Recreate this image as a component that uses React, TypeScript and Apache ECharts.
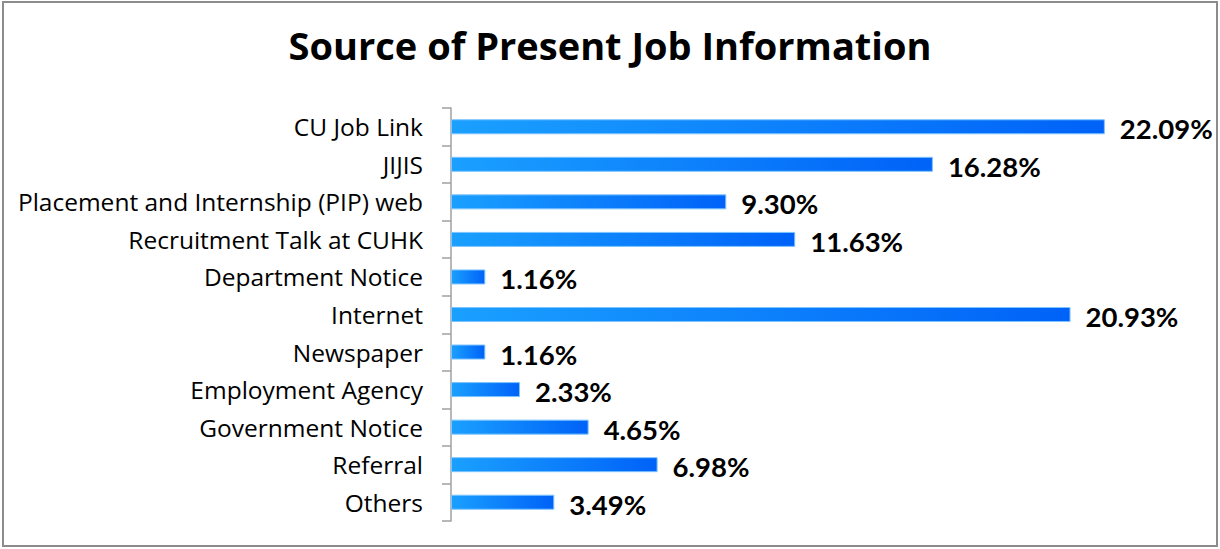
import React, { useEffect, useRef } from "react";
import * as echarts from "echarts";

const categories = [
  "CU Job Link",
  "JIJIS",
  "Placement and Internship (PIP) web",
  "Recruitment Talk at CUHK",
  "Department Notice",
  "Internet",
  "Newspaper",
  "Employment Agency",
  "Government Notice",
  "Referral",
  "Others",
];
const values = [22.09, 16.28, 9.3, 11.63, 1.16, 20.93, 1.16, 2.33, 4.65, 6.98, 3.49];
const titleText = "Source of Present Job Information";

export default function App() {
  const ref = useRef<HTMLDivElement>(null);
  useEffect(() => {
    if (!ref.current) return;
    const chart = echarts.init(ref.current, null, { renderer: "svg" });
    chart.setOption({
      animation: false,
      backgroundColor: "#ffffff",
      title: {
        text: titleText,
        left: "center",
        top: 21,
        textStyle: { fontFamily: "Open Sans", fontWeight: "bold", fontSize: 38, color: "#000" },
      },
      graphic: [
        {
          type: "rect",
          shape: { x: 3, y: 2, width: 1214, height: 544 },
          style: { fill: "none", stroke: "#8c8c8c", lineWidth: 2 },
        },
      ],
      grid: { left: 451, right: 29, top: 108, bottom: 28, containLabel: false },
      xAxis: { type: "value", min: 0, max: 25, show: false },
      yAxis: {
        type: "category",
        data: categories,
        inverse: true,
        axisLine: { show: true, lineStyle: { color: "#a0a0a0", width: 1.5 } },
        axisTick: { show: true, length: 9, lineStyle: { color: "#a0a0a0", width: 1.5 } },
        axisLabel: {
          fontFamily: "Open Sans",
          fontSize: 24.5,
          color: "#000",
          margin: 28,
        },
      },
      series: [
        {
          type: "bar",
          data: values,
          barWidth: 15,
          itemStyle: {
            color: new echarts.graphic.LinearGradient(0, 0, 1, 0, [
              { offset: 0, color: "#1aa0ff" },
              { offset: 1, color: "#0062f8" },
            ]),
            borderColor: "#7cc4ff",
            borderWidth: 1,
          },
          label: {
            show: true,
            position: "right",
            distance: 15,
            offset: [0, 2],
            formatter: (p: any) => p.value.toFixed(2) + "%",
            fontFamily: "Lato",
            fontWeight: "bold",
            fontSize: 27.5,
            color: "#000",
          },
        },
      ],
    });
    return () => chart.dispose();
  }, []);
  return (
    <div
      ref={ref}
      style={{ position: "absolute", left: 0, top: 0, width: 1220, height: 549 }}
    />
  );
}
